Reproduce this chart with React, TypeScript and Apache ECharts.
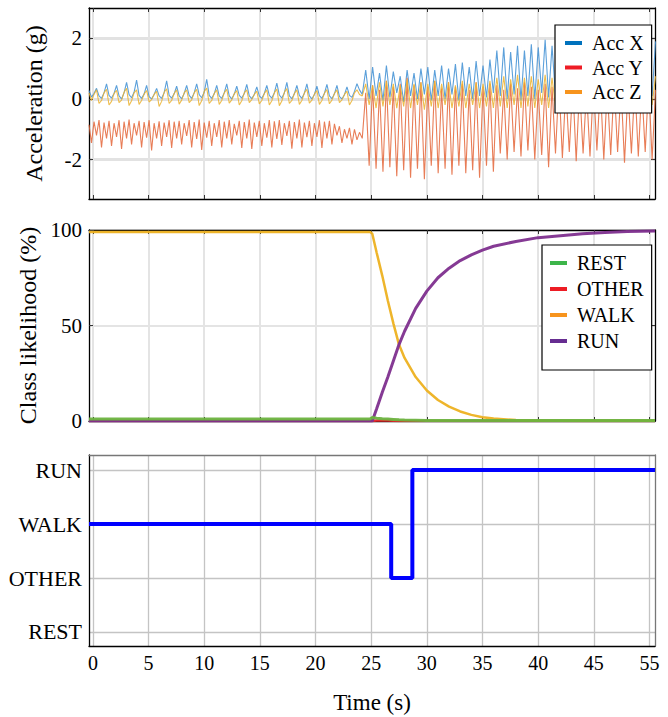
import React, { useEffect, useRef } from "react";
import * as echarts from "echarts";

// ---------- axes / ticks ----------
const xTickValues = [0, 5, 10, 15, 20, 25, 30, 35, 40, 45, 50];
const xTickLabels = ["0", "5", "10", "15", "20", "25", "30", "35", "40", "45", "55"];
const X_MIN = -0.35;
const X_MAX = 50.5;
const accTicks = [-2, 0, 2];
const likeTicks = [0, 50, 100];
const classNames = ["REST", "OTHER", "WALK", "RUN"];
const classTicks = [0, 1, 2, 3];

// ---------- acceleration (sampled) ----------
const seg1Start = -0.35;
const seg1Step = 0.225;
const seg2Start = 24.2;
const seg2Step = 0.31;

const accX1 = [
  0.28, 0.06, 0.18, 0.35,
  0.1, 0.02, 0.2, 0.5,
  0.12, 0.03, 0.18, 0.45,
  0.1, 0.0, 0.2, 0.55,
  0.14, 0.04, 0.22, 0.62,
  0.12, 0.02, 0.16, 0.45,
  0.08, 0.0, 0.15, 0.35,
  0.1, 0.02, 0.2, 0.6,
  0.12, 0.03, 0.17, 0.42,
  0.1, 0.01, 0.18, 0.45,
  0.12, 0.02, 0.2, 0.5,
  0.14, 0.04, 0.22, 0.65,
  0.12, 0.02, 0.17, 0.45,
  0.1, 0.02, 0.2, 0.5,
  0.1, 0.0, 0.16, 0.42,
  0.12, 0.03, 0.18, 0.48,
  0.1, 0.01, 0.15, 0.4,
  0.1, 0.02, 0.18, 0.45,
  0.12, 0.03, 0.2, 0.52,
  0.13, 0.03, 0.2, 0.55,
  0.1, 0.01, 0.17, 0.45,
  0.12, 0.02, 0.19, 0.5,
  0.1, 0.0, 0.15, 0.42,
  0.11, 0.02, 0.18, 0.48,
  0.1, 0.01, 0.17, 0.45,
  0.08, 0.0, 0.14, 0.4,
  0.12, 0.05, 0.25, 0.5,
  0.3,
];

const accY1 = [
  -0.85, -1.45, -0.75, -1.2, -0.7, -1.6, -0.78, -1.3, -0.72, -1.55,
  -0.8, -1.25, -0.7, -1.65, -0.75, -1.3, -0.68, -1.5, -0.8, -1.2,
  -0.72, -1.6, -0.76, -1.28, -0.7, -1.7, -0.8, -1.3, -0.74, -1.55,
  -0.78, -1.25, -0.7, -1.62, -0.75, -1.3, -0.72, -1.5, -0.8, -1.22,
  -0.7, -1.6, -0.76, -1.32, -0.68, -1.68, -0.78, -1.28, -0.72, -1.55,
  -0.8, -1.25, -0.7, -1.6, -0.75, -1.3, -0.7, -1.5, -0.82, -1.2,
  -0.72, -1.62, -0.76, -1.3, -0.68, -1.65, -0.78, -1.25, -0.72, -1.55,
  -0.8, -1.28, -0.7, -1.6, -0.74, -1.32, -0.7, -1.52, -0.8, -1.22,
  -0.72, -1.64, -0.76, -1.3, -0.68, -1.6, -0.78, -1.26, -0.72, -1.55,
  -0.8, -1.25, -0.7, -1.62, -0.75, -1.3, -0.72, -1.5, -0.82, -1.2,
  -0.9, -1.45, -1.0, -1.3, -0.95, -1.5, -1.0, -1.35, -1.1,
];

const accZ1 = [
  0.2, -0.05, 0.15, 0.3,
  -0.15, -0.05, 0.2, 0.32,
  -0.2, -0.08, 0.18, 0.28,
  -0.12, -0.04, 0.22, 0.35,
  -0.22, -0.06, 0.2, 0.3,
  -0.18, -0.05, 0.16, 0.28,
  -0.1, -0.02, 0.15, 0.25,
  -0.25, -0.08, 0.22, 0.33,
  -0.15, -0.05, 0.18, 0.3,
  -0.17, -0.04, 0.2, 0.3,
  -0.12, -0.03, 0.2, 0.32,
  -0.22, -0.06, 0.24, 0.36,
  -0.15, -0.05, 0.18, 0.3,
  -0.18, -0.05, 0.2, 0.32,
  -0.14, -0.03, 0.17, 0.28,
  -0.2, -0.06, 0.2, 0.3,
  -0.12, -0.02, 0.15, 0.26,
  -0.16, -0.05, 0.18, 0.3,
  -0.2, -0.06, 0.2, 0.33,
  -0.22, -0.07, 0.22, 0.34,
  -0.15, -0.05, 0.18, 0.3,
  -0.18, -0.05, 0.2, 0.32,
  -0.14, -0.04, 0.16, 0.28,
  -0.18, -0.05, 0.19, 0.31,
  -0.16, -0.04, 0.18, 0.3,
  -0.12, -0.03, 0.15, 0.26,
  -0.2, -0.05, 0.2, 0.3,
  0.15,
];

const accX2 = [
  0.15, 0.95, 0.0, 1.05, 0.1, 0.85, -0.05, 1.1, 0.05, 0.9,
  0.2, 0.75, -0.1, 0.95, 0.1, 0.85, 0.0, 1.0, 0.15, 1.05,
  -0.05, 0.95, 0.1, 1.1, 0.0, 1.0, 0.15, 1.15, -0.05, 1.2,
  0.1, 1.05, 0.0, 1.25, 0.1, 1.1, 0.05, 1.3, 0.2, 1.6,
  0.1, 1.7, 0.0, 1.55, 0.15, 1.75, -0.05, 1.6, 0.1, 1.8,
  0.0, 1.7, 0.2, 1.95, 0.05, 1.75, 0.1, 2.0, 0.0, 1.8,
  0.15, 1.9, 0.0, 1.85, 0.1, 1.95, 0.05, 1.8, 0.1, 1.9,
  0.0, 1.85, 0.15, 2.0, 0.05, 1.8, 0.1, 1.9, 0.0, 1.95,
  0.1, 1.85, 0.05, 2.0, 0.1, 1.9,
];

const accY2 = [
  -1.3, 0.2, -2.2, 0.45, -2.3, 0.3, -2.4, 0.6, -2.25, 0.4,
  -2.55, 0.5, -2.35, 0.7, -2.6, 0.45, -2.3, 0.55, -2.65, 0.4,
  -2.2, 0.6, -2.45, 0.35, -2.3, 0.55, -2.5, 0.4, -2.2, 0.5,
  -2.45, 0.3, -2.35, 0.55, -2.6, 0.4, -2.2, 0.5, -2.4, 0.45,
  -1.8, 0.3, -2.0, 0.5, -1.75, 0.35, -1.9, 0.55, -1.7, 0.4,
  -2.0, 0.3, -1.85, 0.5, -2.25, 0.4, -1.8, 0.55, -1.95, 0.35,
  -1.75, 0.5, -2.05, 0.4, -1.8, 0.3, -1.9, 0.5, -1.7, 0.45,
  -2.0, 0.35, -1.85, 0.5, -1.75, 0.4, -2.1, 0.3, -1.8, 0.5,
  -1.9, 0.4, -1.75, 0.55, -2.0, 0.3,
];

const accZ2 = [
  0.1, 0.5, -0.2, 0.45, -0.3, 0.55, -0.25, 0.6, -0.2, 0.5,
  -0.3, 0.45, -0.25, 0.65, -0.3, 0.5, -0.2, 0.55, -0.35, 0.5,
  -0.25, 0.6, -0.3, 0.5, -0.2, 0.55, -0.3, 0.45, -0.25, 0.6,
  -0.3, 0.5, -0.2, 0.55, -0.3, 0.5, -0.25, 0.6, -0.3, 0.7,
  -0.25, 0.75, -0.3, 0.65, -0.2, 0.8, -0.3, 0.7, -0.25, 0.75,
  -0.3, 0.65, -0.2, 0.8, -0.3, 0.7, -0.25, 0.75, -0.3, 0.7,
  -0.2, 0.8, -0.3, 0.7, -0.25, 0.75, -0.3, 0.65, -0.2, 0.75,
  -0.3, 0.7, -0.25, 0.8, -0.3, 0.7, -0.2, 0.75, -0.3, 0.7,
  -0.25, 0.8, -0.3, 0.7, -0.2, 0.75,
];

// ---------- class likelihood (%) ----------
const likeTimes = [-0.35, 24.9, 25.1, 25.5, 26, 26.5, 27, 27.5, 28, 29, 30, 31, 32, 33, 34, 35, 36, 38, 40, 42, 44, 46, 48, 50.5];
const likeRest = [1, 1, 1.8, 1.5, 1.2, 1, 0.8, 0.6, 0.5, 0.4, 0.3, 0.3, 0.3, 0.3, 0.3, 0.3, 0.3, 0.3, 0.3, 0.3, 0.3, 0.3, 0.3, 0.3];
const likeOther = [0, 0, 0, 0.3, 0.3, 0.2, 0.1, 0, 0, 0, 0, 0, 0, 0, 0, 0, 0, 0, 0, 0, 0, 0, 0, 0];
const likeWalk = [99, 99, 98, 88, 76, 63, 51, 40, 33, 23, 16, 11, 7.5, 5, 3.2, 2, 1.3, 0.5, 0.2, 0.1, 0, 0, 0, 0];
const likeRun = [0, 0, 0, 6.5, 15, 23, 31.5, 40, 47, 59, 68, 75, 80, 84, 87, 89.5, 91.5, 94, 96, 97, 98, 98.7, 99.2, 99.5];

// ---------- predicted class ----------
const classTimes = [-0.35, 26.8, 28.7, 50.5];
const classSeq = ["WALK", "OTHER", "RUN", "RUN"];

const FONT = "'Liberation Serif', 'Times New Roman', Times, serif";

function sampled(start: number, step: number, vals: number[]) {
  return vals.map((v, i) => [start + i * step, v]);
}
function pairs(ts: number[], vs: number[]) {
  return ts.map((t, i) => [t, vs[i]]);
}

function buildOption() {
  const grids = [
    { left: 89, right: 13, top: 8, height: 191 },
    { left: 89, right: 13, top: 230, height: 191 },
    { left: 89, right: 13, top: 455, height: 191 },
  ];
  const lightGrid = { color: "#e4e4e4", width: 2 };
  const xAxes: any[] = [];
  const yAxes: any[] = [];
  const yCfg = [
    { min: -3.3, max: 3.0, ticks: accTicks, fmt: (v: number) => String(v), name: "Acceleration (g)" },
    { min: 0, max: 100, ticks: likeTicks, fmt: (v: number) => String(v), name: "Class likelihood (%)" },
    { min: -0.26, max: 3.28, ticks: classTicks, fmt: (v: number) => classNames[classTicks.indexOf(v)], name: "" },
  ];
  for (let g = 0; g < 3; g++) {
    const isBottom = g === 2;
    const borderMain = { color: "#000", width: 1.3 };
    const borderMirror = isBottom ? { color: "#777", width: 1.3 } : { color: "#000", width: 1.3 };
    const split = isBottom
      ? { show: true, lineStyle: { color: "#c4c4c4", width: 1.3 } }
      : { show: true, lineStyle: lightGrid };
    xAxes.push({
      type: "value",
      gridIndex: g,
      position: "bottom",
      min: X_MIN,
      max: X_MAX,
      axisLine: { show: true, onZero: false, lineStyle: borderMain },
      axisTick: { show: true, inside: true, length: isBottom ? 0 : 4, customValues: xTickValues, lineStyle: { color: "#333", width: 1 } },
      axisLabel: {
        show: isBottom,
        customValues: xTickValues,
        formatter: (v: number) => xTickLabels[xTickValues.indexOf(v)],
        fontFamily: FONT,
        fontSize: 20,
        color: "#000",
        margin: 7,
      },
      splitLine: split,
      name: isBottom ? "Time (s)" : "",
      nameLocation: "middle",
      nameGap: 45,
      nameTextStyle: { fontFamily: FONT, fontSize: 23, color: "#000" },
    });
    xAxes.push({
      type: "value",
      gridIndex: g,
      position: "top",
      min: X_MIN,
      max: X_MAX,
      axisLine: { show: true, onZero: false, lineStyle: borderMirror },
      axisTick: { show: !isBottom, inside: true, length: 4, customValues: xTickValues, lineStyle: { color: "#333", width: 1 } },
      axisLabel: { show: false, customValues: xTickValues },
      splitLine: { show: false },
    });
    const c = yCfg[g];
    yAxes.push({
      type: "value",
      gridIndex: g,
      position: "left",
      min: c.min,
      max: c.max,
      axisLine: { show: true, onZero: false, lineStyle: borderMain },
      axisTick: { show: true, inside: true, length: isBottom ? 0 : 4, customValues: c.ticks, lineStyle: { color: "#333", width: 1 } },
      axisLabel: {
        show: true,
        customValues: c.ticks,
        formatter: c.fmt,
        fontFamily: FONT,
        fontSize: isBottom ? 22 : 21,
        color: "#000",
        margin: 7,
      },
      splitLine: g === 0 ? { show: true, lineStyle: { color: "#e2e2e2", width: 3 } } : split,
      name: c.name,
      nameLocation: "middle",
      nameGap: 43,
      nameTextStyle: { fontFamily: FONT, fontSize: 24, color: "#000" },
    });
    yAxes.push({
      type: "value",
      gridIndex: g,
      position: "right",
      min: c.min,
      max: c.max,
      axisLine: { show: true, onZero: false, lineStyle: borderMirror },
      axisTick: { show: !isBottom, inside: true, length: 4, customValues: c.ticks, lineStyle: { color: "#333", width: 1 } },
      axisLabel: { show: false, customValues: c.ticks },
      splitLine: { show: false },
    });
  }

  const accLine = (name: string, color: string, a: number[], b: number[]) => ({
    type: "line",
    name,
    xAxisIndex: 0,
    yAxisIndex: 0,
    data: sampled(seg1Start, seg1Step, a).concat(sampled(seg2Start, seg2Step, b)),
    showSymbol: false,
    symbol: "none",
    color,
    lineStyle: { color, width: 1.1, opacity: 0.85 },
    z: 3,
  });
  const likeLine = (name: string, color: string, vals: number[], width: number, z: number) => ({
    type: "line",
    name,
    xAxisIndex: 2,
    yAxisIndex: 2,
    data: pairs(likeTimes, vals),
    showSymbol: false,
    symbol: "none",
    color,
    lineStyle: { color, width, opacity: 0.95 },
    z,
  });

  const legendText = { fontFamily: FONT, fontSize: 20, color: "#000", lineHeight: 20, padding: [0, 0, 0, 5] };

  return {
    animation: false,
    backgroundColor: "#fff",
    textStyle: { fontFamily: FONT },
    grid: grids,
    xAxis: xAxes,
    yAxis: yAxes,
    legend: [
      {
        orient: "vertical",
        left: 555,
        top: 25,
        padding: [8, 8, 11, 10],
        itemGap: 4.5,
        itemWidth: 17,
        itemHeight: 4,
        icon: "rect",
        backgroundColor: "#fff",
        borderColor: "#000",
        borderWidth: 1.2,
        textStyle: legendText,
        data: [
          { name: "Acc X", itemStyle: { color: "#0072BD" } },
          { name: "Acc Y", itemStyle: { color: "#EE1C25" } },
          { name: "Acc Z", itemStyle: { color: "#F7941D" } },
        ],
      },
      {
        orient: "vertical",
        left: 542,
        top: 245,
        padding: [8, 8, 19, 8],
        itemGap: 6,
        itemWidth: 17,
        itemHeight: 4,
        icon: "rect",
        backgroundColor: "#fff",
        borderColor: "#000",
        borderWidth: 1.2,
        textStyle: legendText,
        data: [
          { name: "REST", itemStyle: { color: "#3DB54A" } },
          { name: "OTHER", itemStyle: { color: "#ED1C24" } },
          { name: "WALK", itemStyle: { color: "#F7941D" } },
          { name: "RUN", itemStyle: { color: "#662D91" } },
        ],
      },
    ],
    series: [
      accLine("Acc X", "#3f8fd3", accX1, accX2),
      accLine("Acc Y", "#e4663a", accY1, accY2),
      accLine("Acc Z", "#ebb22e", accZ1, accZ2),
      likeLine("OTHER", "#e8282b", likeOther, 2.5, 3),
      likeLine("WALK", "#edb120", likeWalk, 2.5, 4),
      likeLine("RUN", "#7e2f8e", likeRun, 3, 5),
      likeLine("REST", "#6cb33f", likeRest, 3, 6),
      {
        type: "line",
        name: "Class",
        xAxisIndex: 4,
        yAxisIndex: 4,
        step: "end",
        data: classTimes.map((t, i) => [t, classNames.indexOf(classSeq[i])]),
        showSymbol: false,
        symbol: "none",
        color: "#0000ff",
        lineStyle: { color: "#0000ff", width: 4 },
        z: 5,
      },
    ],
  };
}

export default function App() {
  const ref = useRef<HTMLDivElement>(null);
  useEffect(() => {
    if (!ref.current) return;
    const chart = echarts.init(ref.current, null, { renderer: "svg" });
    chart.setOption(buildOption() as any);
    return () => chart.dispose();
  }, []);
  return (
    <div
      ref={ref}
      style={{ position: "absolute", left: 0, top: 0, width: 668, height: 717, background: "#fff" }}
    />
  );
}
